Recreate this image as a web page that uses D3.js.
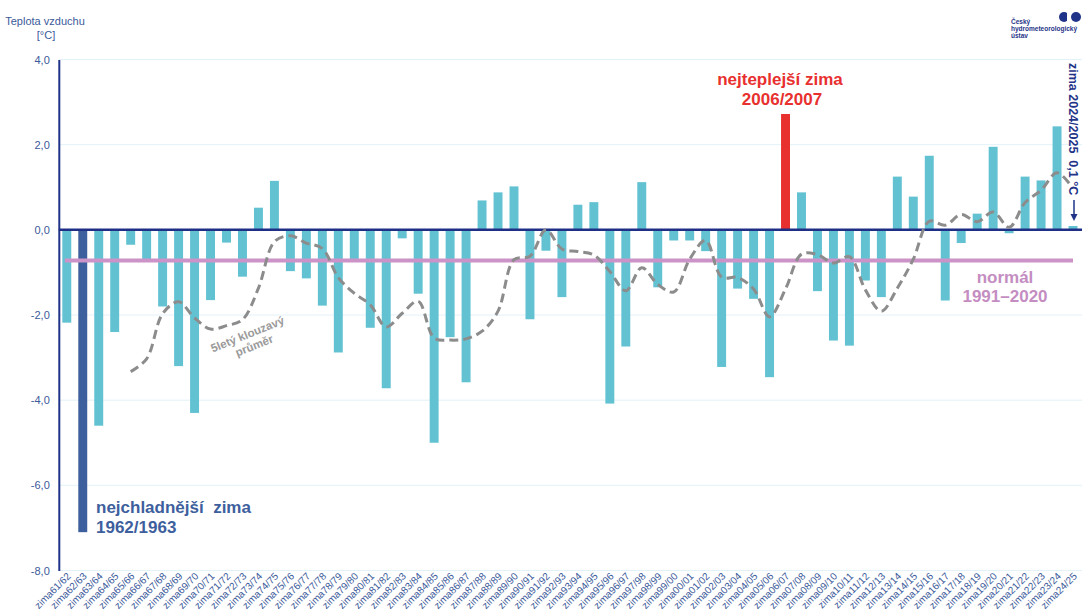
<!DOCTYPE html>
<html lang="cs">
<head>
<meta charset="utf-8">
<script src="https://cdn.jsdelivr.net/npm/d3@7"></script>
<style>
body { margin: 0; background: #fff; }
svg { display: block; font-family: "Liberation Sans", Arial, sans-serif; }
</style>
</head>
<body>
<div id="chart"></div>
<script>
var winters = [
    "zima61/62","zima62/63","zima63/64","zima64/65","zima65/66","zima66/67","zima67/68","zima68/69","zima69/70","zima70/71",
    "zima71/72","zima72/73","zima73/74","zima74/75","zima75/76","zima76/77","zima77/78","zima78/79","zima79/80","zima80/81",
    "zima81/82","zima82/83","zima83/84","zima84/85","zima85/86","zima86/87","zima87/88","zima88/89","zima89/90","zima90/91",
    "zima91/92","zima92/93","zima93/94","zima94/95","zima95/96","zima96/97","zima97/98","zima98/99","zima99/00","zima00/01",
    "zima01/02","zima02/03","zima03/04","zima04/05","zima05/06","zima06/07","zima07/08","zima08/09","zima09/10","zima10/11",
    "zima11/12","zima12/13","zima13/14","zima14/15","zima15/16","zima16/17","zima17/18","zima18/19","zima19/20","zima20/21",
    "zima21/22","zima22/23","zima23/24","zima24/25"
];

var temps = [
    -2.18, -7.1, -4.6, -2.4, -0.35, -0.7, -1.8, -3.2, -4.3, -1.65,
    -0.3, -1.1, 0.52, 1.15, -0.97, -1.14, -1.78, -2.88, -0.7, -2.3,
    -3.72, -0.2, -1.5, -5.0, -2.52, -3.58, 0.69, 0.88, 1.02, -2.1,
    -0.49, -1.58, 0.59, 0.65, -4.08, -2.74, 1.12, -1.35, -0.25, -0.25,
    -0.5, -3.22, -1.38, -1.62, -3.46, 2.72, 0.88, -1.44, -2.6, -2.72,
    -1.19, -1.58, 1.25, 0.78, 1.74, -1.66, -0.31, 0.38, 1.95, -0.08,
    1.25, 1.16, 2.43, 0.09
];

// 5lety klouzavy prumer
var movingAvg = [
    null, null, null, null, -3.33, -3.03, -1.97, -1.69, -2.07, -2.33,
    -2.25, -2.11, -1.37, -0.28, -0.14, -0.31, -0.44, -1.12, -1.49, -1.76,
    -2.28, -1.96, -1.68, -2.54, -2.59, -2.56, -2.38, -1.91, -0.70, -0.62,
    0.0, -0.45, -0.51, -0.59, -0.98, -1.43, -0.89, -1.28, -1.46, -0.69,
    -0.25, -1.11, -1.12, -1.39, -2.04, -1.39, -0.57, -0.58, -0.78, -0.63,
    -1.41, -1.91, -1.37, -0.69, 0.20, 0.11, 0.36, 0.19, 0.42, 0.06,
    0.64, 0.93, 1.34, 0.97
];

var normal = -0.72;
var yTicks = [4, 2, 0, -2, -4, -6, -8];
var coldest = 1;
var warmest = 45;

function drawChart() {

    var width = 1082;
    var height = 615;
    var left = 58.8, right = 1081, top = 59.5, bottom = 570.5;

    var svg = d3.select("#chart")
                .append("svg")
                .attr("width", width)
                .attr("height", height);

    var x = d3.scaleBand().domain(winters).range([left, right]).paddingInner(0.44).paddingOuter(0.22);
    var y = d3.scaleLinear().domain([-8, 4]).range([bottom, top]);
    var cx = function(i) { return x(winters[i]) + x.bandwidth() / 2; };

    // mrizka
    svg.append("g")
        .selectAll("line")
        .data(yTicks.filter(function(d) { return d !== 0; }))
        .join("line")
        .attr("x1", left).attr("x2", width)
        .attr("y1", d => y(d)).attr("y2", d => y(d))
        .attr("stroke", "#e2f2f8")
        .attr("stroke-width", 1);

    // osa y
    var yAxis = svg.append("g")
        .attr("transform", "translate(" + left + ",0)")
        .call(d3.axisLeft(y).tickValues(yTicks).tickSize(0).tickSizeOuter(0).tickPadding(9)
            .tickFormat(function(d) { return d.toFixed(1).replace(".", ","); }));
    yAxis.select(".domain").attr("stroke", "#1f3488").attr("stroke-width", 2);
    yAxis.selectAll("text").attr("fill", "#3b5a9a").style("font-size", "11px");

    // osa x
    var xAxis = svg.append("g")
        .attr("transform", "translate(0," + (bottom + 6) + ")")
        .call(d3.axisBottom(x).tickSize(0));
    xAxis.select(".domain").remove();
    xAxis.selectAll("text")
        .attr("x", 3).attr("y", 0).attr("dy", "0.35em")
        .attr("transform", "rotate(-45)")
        .attr("text-anchor", "end")
        .attr("fill", "#3b5a9a")
        .style("font-size", "10px");

    // sloupce
    svg.append("g")
        .selectAll("rect")
        .data(temps)
        .join("rect")
        .attr("x", (d, i) => x(winters[i]))
        .attr("width", x.bandwidth())
        .attr("y", d => y(Math.max(0, d)))
        .attr("height", d => Math.abs(y(d) - y(0)))
        .attr("fill", function(d, i) {
            if (i === coldest) return "#3e5f9d";
            if (i === warmest) return "#e8302f";
            return "#62c2d2";
        });

    // nula
    svg.append("line")
        .attr("x1", left).attr("x2", width)
        .attr("y1", y(0)).attr("y2", y(0))
        .attr("stroke", "#1f2f85")
        .attr("stroke-width", 2.5);

    // normal
    svg.append("line")
        .attr("x1", cx(0) - 2).attr("x2", cx(temps.length - 1))
        .attr("y1", y(normal)).attr("y2", y(normal))
        .attr("stroke", "#cc93c8")
        .attr("stroke-width", 4);

    // klouzavy prumer
    var line = d3.line()
        .defined(d => d !== null)
        .x((d, i) => cx(i))
        .y(d => y(d))
        .curve(d3.curveCatmullRom.alpha(0.5));

    svg.append("path")
        .datum(movingAvg)
        .attr("d", line)
        .attr("fill", "none")
        .attr("stroke", "#8c8c8c")
        .attr("stroke-width", 3)
        .attr("stroke-dasharray", "9,5");

    // popisky
    svg.append("text").attr("x", 45).attr("y", 25).attr("text-anchor", "middle")
        .attr("fill", "#3b5a9a").style("font-size", "11px").text("Teplota vzduchu");
    svg.append("text").attr("x", 46).attr("y", 39).attr("text-anchor", "middle")
        .attr("fill", "#3b5a9a").style("font-size", "11px").text("[°C]");

    var cold = svg.append("g").attr("fill", "#3e5f9d").style("font-size", "17px").style("font-weight", "bold");
    cold.append("text").attr("x", 96).attr("y", 513).attr("xml:space", "preserve").text("nejchladnější  zima");
    cold.append("text").attr("x", 96).attr("y", 533).text("1962/1963");

    var warm = svg.append("g").attr("fill", "#e8302f").style("font-size", "17px").style("font-weight", "bold")
        .attr("text-anchor", "middle");
    warm.append("text").attr("x", 780).attr("y", 85).text("nejteplejší zima");
    warm.append("text").attr("x", 782).attr("y", 105).text("2006/2007");

    var norm = svg.append("g").attr("fill", "#c48dc2").style("font-size", "17px").style("font-weight", "bold")
        .attr("text-anchor", "middle");
    norm.append("text").attr("x", 1005).attr("y", 283).text("normál");
    norm.append("text").attr("x", 1005).attr("y", 302).text("1991–2020");

    var avgLabel = svg.append("g").attr("transform", "translate(249,338) rotate(-22)")
        .attr("fill", "#9a9a9a").style("font-size", "11.5px").style("font-weight", "bold")
        .attr("text-anchor", "middle");
    avgLabel.append("text").attr("x", 0).attr("y", 0).text("5letý klouzavý");
    avgLabel.append("text").attr("x", 2).attr("y", 13).text("průměr");

    // posledni zima
    svg.append("text")
        .attr("transform", "translate(1069,63) rotate(90)")
        .attr("fill", "#1f3488").style("font-size", "12.5px").style("font-weight", "bold")
        .attr("xml:space", "preserve")
        .text("zima 2024/2025  0,1 °C");
    svg.append("line")
        .attr("x1", 1074).attr("x2", 1074).attr("y1", 200).attr("y2", 216)
        .attr("stroke", "#1f3488").attr("stroke-width", 1.5);
    svg.append("path")
        .attr("d", "M1070.5,214 L1077.5,214 L1074,221 Z")
        .attr("fill", "#1f3488");

    // logo
    var logo = svg.append("g").attr("fill", "#1f3488");
    logo.append("circle").attr("cx", 1064).attr("cy", 17).attr("r", 5);
    logo.append("circle").attr("cx", 1076).attr("cy", 17).attr("r", 5);
    logo.append("rect").attr("x", 1067).attr("y", 11).attr("width", 3).attr("height", 12).attr("fill", "#fff");
    var logoText = logo.append("g").style("font-size", "6.5px").style("font-weight", "bold");
    logoText.append("text").attr("x", 1011).attr("y", 24).text("Český");
    logoText.append("text").attr("x", 1011).attr("y", 31).text("hydrometeorologický");
    logoText.append("text").attr("x", 1011).attr("y", 38).text("ústav");
}

drawChart();
</script>
</body>
</html>
